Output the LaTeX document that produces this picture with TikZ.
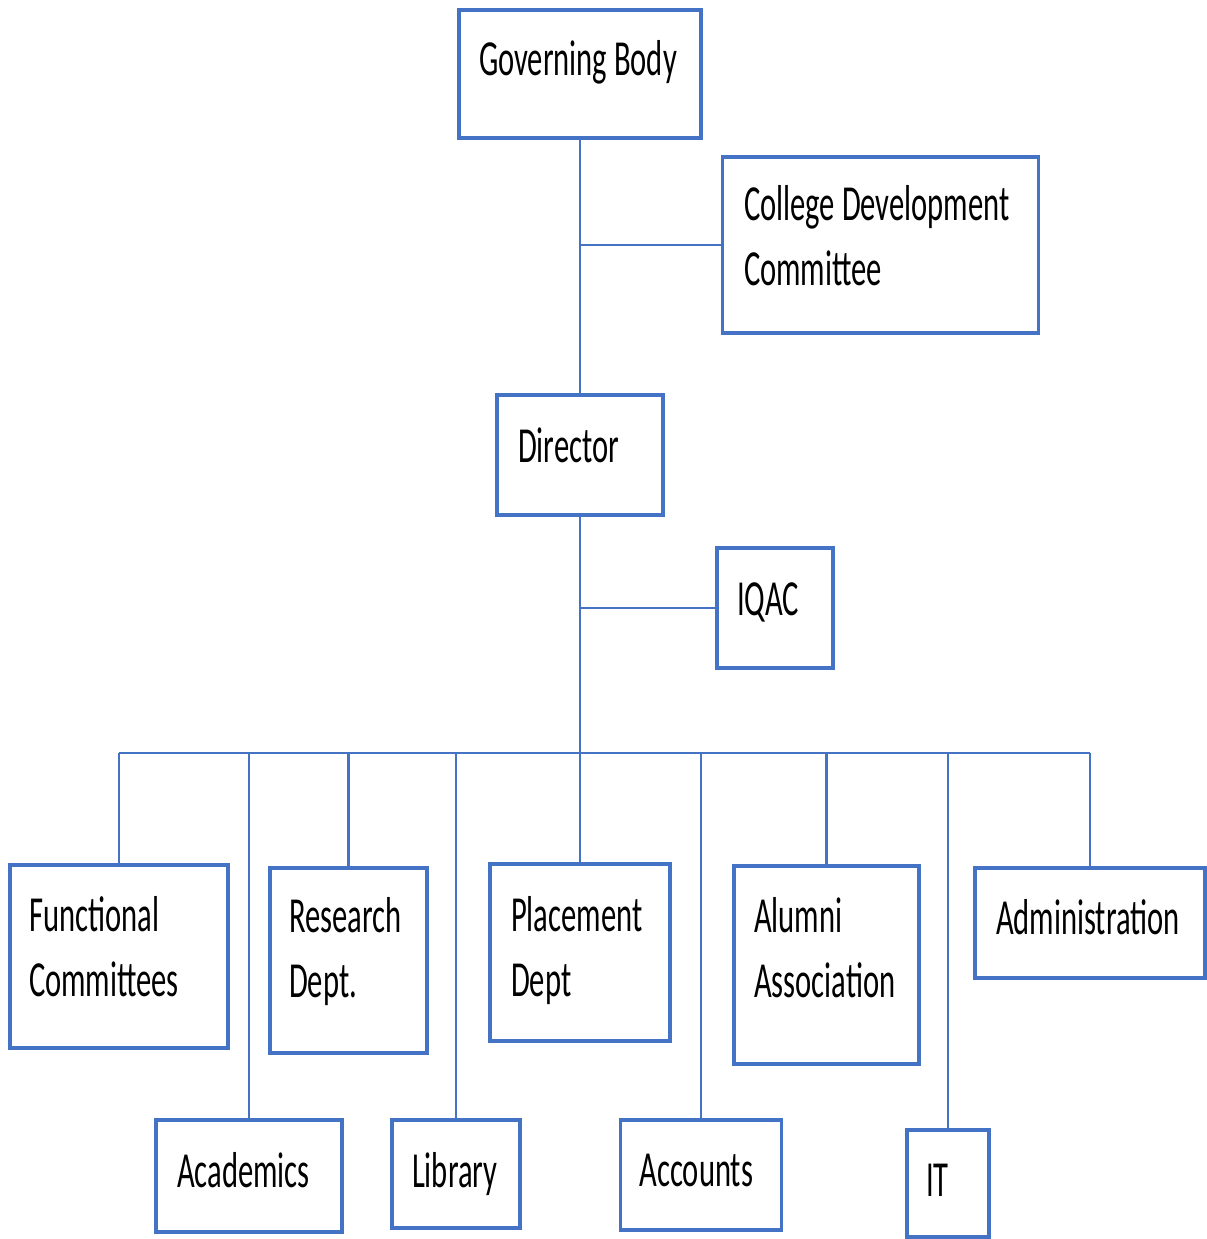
\documentclass[tikz,border=0pt]{standalone}
\usepackage{fontspec}
\setmainfont{Carlito}
\usepackage{graphicx}
\definecolor{boxcolor}{HTML}{4472C4}
\usetikzlibrary{calc}

\newcommand{\tall}[1]{\scalebox{1}[1.65]{#1}}

\begin{document}
\begin{tikzpicture}[x=0.01cm, y=-0.01cm,
    box/.style={draw=boxcolor, line width=0.9pt, inner sep=0pt},
    txt/.style={anchor=base west, inner sep=0pt, align=left, font=\fontsize{8.7}{18.5}\selectfont},
    link/.style={draw=boxcolor, line width=0.8pt}]

    \useasboundingbox (0, 0) rectangle (1207, 1239);

    % top part
    \node (gb) [box, minimum width=2.42cm, minimum height=1.28cm] at (580, 74) {};
    \node (cdc) [box, minimum width=3.15cm, minimum height=1.76cm] at (880.5, 245) {};
    \node (dir) [box, minimum width=1.66cm, minimum height=1.20cm] at (580, 455) {};
    \node (iqac) [box, minimum width=1.16cm, minimum height=1.20cm] at (775, 608) {};

    % first row
    \node (fc) [box, minimum width=2.18cm, minimum height=1.83cm] at (119, 956.5) {};
    \node (rd) [box, minimum width=1.57cm, minimum height=1.85cm] at (348.5, 960.5) {};
    \node (pd) [box, minimum width=1.80cm, minimum height=1.77cm] at (580, 952.5) {};
    \node (aa) [box, minimum width=1.85cm, minimum height=1.98cm] at (826.5, 965) {};
    \node (adm) [box, minimum width=2.30cm, minimum height=1.10cm] at (1090, 923) {};

    % second row
    \node (acad) [box, minimum width=1.86cm, minimum height=1.12cm] at (249, 1176) {};
    \node (lib) [box, minimum width=1.28cm, minimum height=1.08cm] at (456, 1174) {};
    \node (acc) [box, minimum width=1.61cm, minimum height=1.10cm] at (701, 1175) {};
    \node (it) [box, minimum width=0.82cm, minimum height=1.07cm] at (948, 1183.5) {};

    % texts (base = last line)
    \node (gbt) [txt] at ($ (gb.north west) + (21, 67) $) {\tall{Governing Body}};
    \node (cdct) [txt] at ($ (cdc.north west) + (22, 130) $) {\tall{College Development}\\\tall{Committee}};
    \node (dirt) [txt] at ($ (dir.north west) + (22, 69) $) {\tall{Director}};
    \node (iqact) [txt] at ($ (iqac.north west) + (21, 69) $) {\tall{IQAC}};
    \node (fct) [txt] at ($ (fc.north west) + (20, 133) $) {\tall{Functional}\\\tall{Committees}};
    \node (rdt) [txt] at ($ (rd.north west) + (20, 131) $) {\tall{Research}\\\tall{Dept.}};
    \node (pdt) [txt] at ($ (pd.north west) + (22, 134) $) {\tall{Placement}\\\tall{Dept}};
    \node (aat) [txt] at ($ (aa.north west) + (21, 133) $) {\tall{Alumni}\\\tall{Association}};
    \node (admt) [txt] at ($ (adm.north west) + (22, 68) $) {\tall{Administration}};
    \node (acadt) [txt] at ($ (acad.north west) + (22, 69) $) {\tall{Academics}};
    \node (libt) [txt] at ($ (lib.north west) + (21, 69) $) {\tall{Library}};
    \node (acct) [txt] at ($ (acc.north west) + (20, 68) $) {\tall{Accounts}};
    \node (itt) [txt] at ($ (it.north west) + (20, 68) $) {\tall{IT}};

    % connectors
    \coordinate (bus) at (580, 753);
    \draw [link] (gb.south) -- (dir.north);
    \draw [link] (cdc.west) -- (cdc.west -| gb.south);
    \draw [link] (dir.south) -- (pd.north);
    \draw [link] (iqac.west) -- (iqac.west -| dir.south);
    \draw [link] (fc.north |- bus) -- (adm.north |- bus);
    \foreach \b in {fc, acad, rd, lib, acc, aa, it, adm} {%
            \draw [link] (\b.north) -- (\b.north |- bus);
        }
\end{tikzpicture}
\end{document}
